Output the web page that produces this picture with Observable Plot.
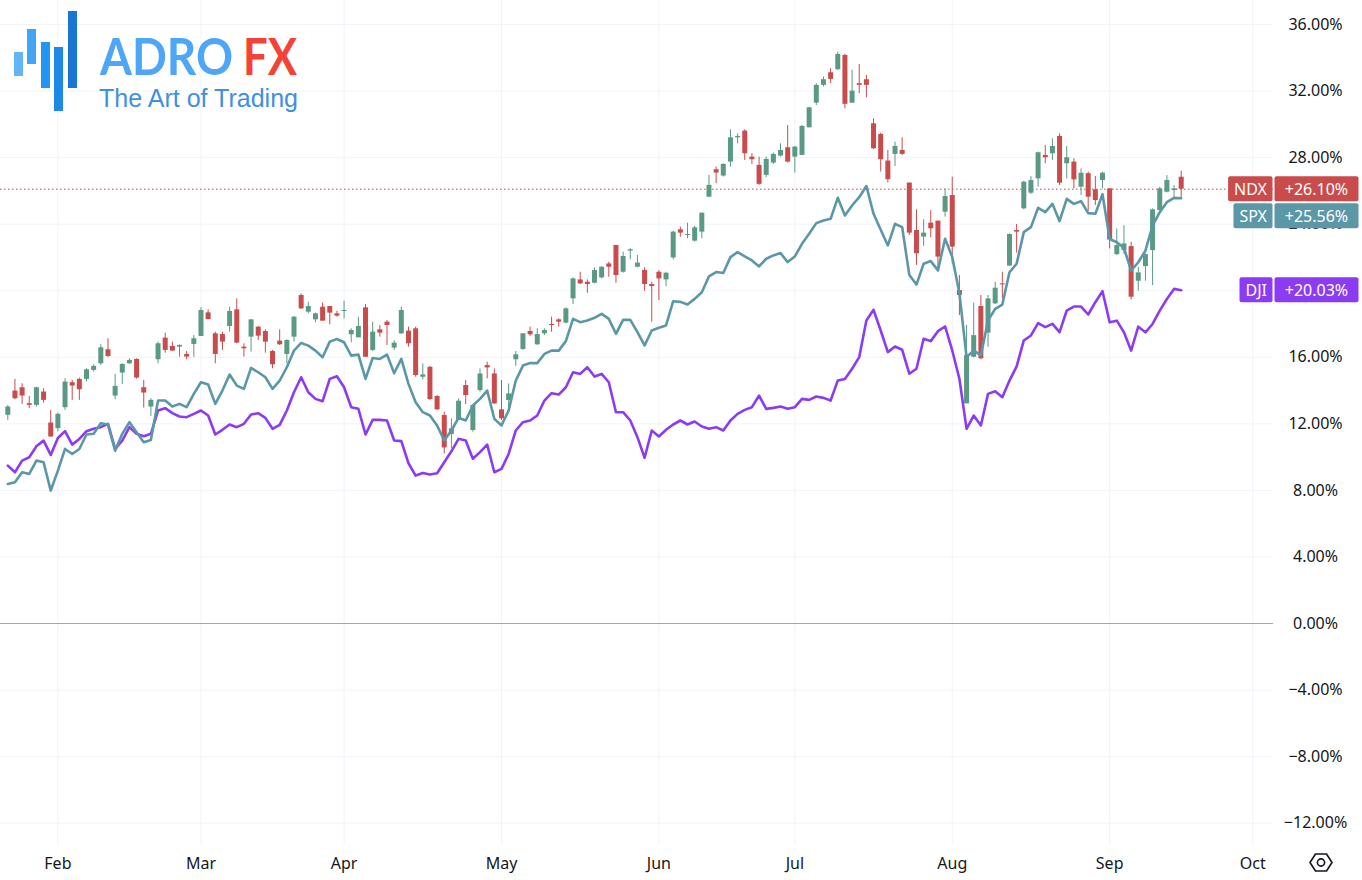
<!DOCTYPE html>
<html><head><meta charset="utf-8">
<script src="https://cdn.jsdelivr.net/npm/d3@7"></script>
<script src="https://cdn.jsdelivr.net/npm/@observablehq/plot@0.6"></script>
<style>
html,body{margin:0;padding:0;background:#fff;}
#wrap{position:relative;width:1362px;height:880px;overflow:hidden;}
#logo{position:absolute;left:0;top:0;}
#gear{position:absolute;left:0;top:0;pointer-events:none;}
</style></head><body>
<div id="wrap">
<div id="chart"></div>
<svg id="logo" width="320" height="120" xmlns="http://www.w3.org/2000/svg">
  <rect x="14" y="52" width="9" height="24" fill="#64b5f6"/>
  <rect x="27" y="29" width="9" height="35" fill="#42a5f5"/>
  <rect x="41" y="42" width="9" height="46" fill="#2196f3"/>
  <rect x="54" y="47" width="9" height="64" fill="#1e88e5"/>
  <rect x="68" y="11" width="9" height="77" fill="#1976d2"/>
  <text x="100" y="75" font-family="Lato" font-weight="700" font-size="51" fill="#4ea7f6" textLength="133" lengthAdjust="spacingAndGlyphs">ADRO</text>
  <text x="243" y="75" font-family="Lato" font-weight="700" font-size="51" fill="#f44336" textLength="54" lengthAdjust="spacingAndGlyphs">FX</text>
  <text x="99" y="107" font-family="'Liberation Sans', sans-serif" font-weight="400" font-size="25" fill="#3f8fe3" textLength="199" lengthAdjust="spacingAndGlyphs">The Art of Trading</text>
</svg>
<svg id="gear" width="1362" height="880" xmlns="http://www.w3.org/2000/svg">
  <polygon points="1310,862.5 1315.5,854 1326.5,854 1332,862.5 1326.5,871 1315.5,871" fill="none" stroke="#131722" stroke-width="1.6" stroke-linejoin="round"/>
  <circle cx="1321" cy="862.5" r="3.6" fill="none" stroke="#131722" stroke-width="1.6"/>
</svg>
</div>
<script>
// ---- data (percent change, comparison mode) ----
const firstBarIndex = -7; // trading-day index relative to Feb 1
const ndxOpen = [12.51,13.97,14.17,13.21,13.11,13.91,12.05,11.71,12.97,14.47,14.67,14.67,15.21,15.61,16.45,13.67,15.05,15.61,15.87,14.17,13.01,15.85,17.15,16.65,16.61,16.17,16.77,17.25,18.67,17.41,17.37,17.85,18.85,16.61,17.21,17.81,17.55,16.35,16.97,16.17,17.21,19.71,18.71,18.25,19.01,19.05,18.61,18.75,17.35,17.17,18.97,16.41,17.65,18.11,16.55,17.41,17.57,17.71,14.8,15.4,13.64,12.5,11.36,12.2,14.3,11.6,14.0,15.5,15.0,12.84,13.4,15.85,16.47,17.55,16.75,17.41,17.97,18.25,18.05,19.51,20.65,20.51,20.45,20.77,21.61,22.72,21.11,22.38,21.41,21.22,20.37,21.11,20.65,21.97,23.66,23.32,22.98,23.52,25.62,27.27,26.89,27.73,29.19,29.59,28.03,27.53,26.93,27.67,28.09,28.59,28.03,28.13,29.79,31.27,32.34,33.1,33.28,34.14,31.27,32.44,32.68,30.03,29.39,27.79,28.19,28.43,26.47,23.62,23.22,24.06,24.18,24.72,25.72,20.01,13.2,16.0,19.05,17.45,19.21,20.41,21.48,23.62,24.92,25.86,26.72,28.13,28.23,29.27,27.63,27.73,26.22,27.03,26.06,26.62,26.12,22.17,22.41,22.65,20.57,21.45,22.41,24.82,25.92,26.02,26.82];
const ndxHigh = [13.11,14.67,14.41,13.65,14.2,14.11,12.81,12.65,14.71,14.61,14.75,15.31,15.55,16.75,17.11,14.97,15.61,15.91,15.91,14.61,13.51,16.91,17.45,16.91,16.75,16.35,17.31,18.97,18.85,17.51,17.51,19.01,19.51,16.81,18.25,17.85,17.65,16.41,17.65,17.05,18.45,19.81,19.31,18.65,19.27,19.05,18.77,19.37,17.71,18.41,19.17,18.11,17.91,18.21,17.0,19.01,17.81,17.81,15.6,15.44,13.7,12.7,12.3,13.5,14.6,13.1,15.3,15.7,15.3,14.6,14.4,16.35,17.41,17.81,17.71,17.71,18.41,18.31,18.97,20.77,21.11,20.65,21.37,21.45,21.71,22.72,22.32,22.52,22.12,21.38,20.51,21.21,21.11,23.58,23.82,24.06,23.86,24.66,26.93,27.43,27.63,29.67,29.43,29.67,28.23,28.03,28.03,28.27,28.83,29.93,28.67,29.93,31.03,32.44,32.84,33.34,34.34,34.2,33.24,33.6,32.94,30.33,29.47,28.43,28.93,29.19,26.47,24.86,24.26,24.82,24.18,26.12,26.82,20.91,17.91,19.25,19.71,19.71,20.51,21.11,23.42,23.98,26.58,26.86,28.33,28.73,29.13,29.43,28.67,27.93,27.32,27.13,26.86,27.12,26.12,23.71,23.91,22.91,21.41,22.21,24.92,26.22,26.92,26.32,27.18];
const ndxLow = [12.21,13.45,13.17,12.91,13.0,13.25,11.2,11.51,12.81,13.41,13.41,14.51,15.11,15.51,15.97,13.45,14.37,15.57,14.69,12.95,12.45,15.61,16.25,16.37,16.0,15.85,16.0,17.25,18.25,15.61,16.41,17.51,16.81,16.01,16.31,17.01,16.25,15.31,16.71,15.61,16.91,18.87,18.61,18.07,18.17,17.95,18.41,18.31,16.87,17.17,16.0,16.35,17.21,16.71,16.41,17.37,16.61,14.8,14.64,13.4,12.8,10.19,10.5,12.2,13.16,11.5,13.9,14.7,13.16,12.2,12.7,15.45,16.41,17.25,16.71,17.31,17.51,17.81,18.01,19.17,20.37,19.85,20.41,20.71,20.81,20.45,21.05,21.86,21.38,19.97,18.11,19.41,20.25,21.86,23.22,23.12,22.92,23.12,25.59,26.43,26.83,27.43,28.83,27.83,27.59,26.33,26.79,27.59,28.03,27.67,27.07,28.13,29.79,31.13,32.24,32.44,33.24,30.93,31.27,31.84,31.6,28.49,27.13,26.47,27.47,28.13,23.32,21.52,22.66,23.18,21.18,24.42,21.62,18.51,13.2,15.97,15.85,16.61,19.17,19.51,21.48,22.26,24.86,25.78,26.22,27.63,27.83,26.32,26.72,26.12,25.72,24.78,25.12,26.12,22.51,22.11,22.17,19.45,19.97,20.57,20.31,24.78,25.88,25.58,25.58];
const ndxClose = [13.01,13.51,13.67,13.11,14.17,13.41,11.21,12.57,14.51,14.27,14.05,15.25,15.45,16.57,16.05,14.25,15.57,15.81,14.75,13.85,13.41,16.81,16.41,16.37,16.71,16.01,17.11,18.81,18.27,16.17,16.91,18.75,16.85,16.51,18.25,17.27,16.91,15.55,16.75,17.01,18.41,18.91,19.05,18.61,18.17,18.65,18.47,18.81,17.61,17.85,16.0,17.51,17.45,17.91,16.85,18.81,16.81,14.9,14.94,13.46,12.84,10.55,11.7,13.36,13.7,13.1,15.0,15.36,13.2,12.3,13.8,16.15,17.41,17.35,17.37,17.61,17.91,18.11,18.91,20.71,20.41,20.37,21.21,21.41,21.41,20.91,22.06,22.46,21.66,20.37,20.25,20.71,21.05,23.52,23.46,23.38,23.78,24.66,26.33,27.07,27.59,29.19,29.27,28.23,27.87,26.39,27.89,28.19,28.43,27.73,28.63,29.87,30.99,32.34,32.68,32.7,34.2,31.2,31.99,32.34,32.34,28.53,27.87,26.67,28.67,28.19,23.46,22.22,23.46,23.72,22.02,25.66,22.62,19.71,16.11,17.3,15.91,19.51,20.15,20.35,23.38,23.52,26.52,26.62,28.29,27.99,28.67,26.46,27.99,26.66,27.06,25.62,25.42,27.06,23.05,22.71,22.81,19.61,21.07,22.17,24.86,26.12,26.62,26.12,26.10];
const spxClose = [8.39,8.49,9.09,8.99,9.79,9.69,7.99,9.19,10.49,10.19,10.49,11.36,11.40,12.04,11.96,10.39,11.40,12.10,11.50,10.89,11.03,13.40,13.40,13.04,13.20,13.0,13.80,14.5,14.36,13.2,14.0,14.96,14.3,14.1,15.36,15.1,14.8,14.1,14.6,15.4,16.4,16.86,16.7,16.4,16.0,16.94,17.1,16.9,16.1,16.16,14.7,15.96,15.9,16.16,15.04,15.9,14.4,13.3,12.7,12.5,11.9,11.0,11.6,12.36,12.2,13.1,13.5,14.0,12.3,11.9,12.8,14.6,15.5,15.65,15.65,16.2,16.4,16.4,16.97,18.31,18.11,18.21,18.37,18.61,18.31,17.41,18.25,18.25,17.51,16.71,17.61,17.77,17.91,19.37,19.33,19.17,19.51,19.91,20.86,21.12,21.06,22.02,22.32,22.06,21.82,21.46,21.92,22.12,22.26,21.72,22.06,22.82,23.42,24.06,24.22,24.32,25.58,24.52,25.12,25.62,26.29,24.62,23.66,22.72,24.02,23.82,20.95,20.37,21.62,21.78,21.22,23.12,22.02,19.85,16.01,16.41,16.11,18.21,18.91,19.17,21.11,21.62,23.52,23.82,24.98,24.72,25.22,24.18,25.52,25.22,25.38,24.66,24.62,25.8,23.11,22.91,22.57,21.21,21.71,22.41,23.91,24.72,25.32,25.58,25.56];
const djiClose = [9.49,9.09,9.79,9.99,10.65,10.99,10.13,11.15,11.56,10.75,11.09,11.56,11.70,11.80,12.0,10.49,10.99,11.80,11.40,11.26,11.40,12.8,12.94,12.64,12.44,12.40,12.60,12.8,12.5,11.36,11.64,11.96,11.80,12.0,12.56,12.64,12.36,11.70,11.94,12.8,13.9,14.8,13.9,13.5,13.36,14.7,14.86,14.2,13.0,12.9,11.36,12.24,12.24,12.2,11.0,10.96,9.63,8.89,9.05,8.95,9.03,9.69,10.35,11.1,11.0,9.9,10.3,10.75,9.09,9.29,10.19,11.6,12.1,12.2,12.5,13.4,13.84,13.76,14.2,15.1,15.0,15.4,14.84,15.0,14.5,12.7,12.7,12.2,11.2,9.96,11.6,11.24,11.64,11.96,12.2,11.96,12.14,11.84,11.7,11.8,11.6,12.2,12.6,12.84,13.0,13.7,12.9,12.96,13.04,12.9,13.0,13.5,13.44,13.64,13.56,13.4,14.6,14.7,15.31,16.01,18.21,18.85,17.61,16.31,16.65,16.45,15.01,15.31,17.11,16.97,17.57,17.85,16.41,14.71,11.7,12.5,11.9,13.8,13.96,13.6,14.6,15.45,17.01,17.31,18.05,17.81,18.01,17.51,18.81,19.05,19.05,18.57,19.31,19.97,18.1,18.2,17.5,16.4,17.84,17.5,18.0,18.8,19.5,20.11,20.03];

const monthTickIdx = [0, 20, 40, 62, 84, 103, 125, 147, 167];
const monthLabels = ["Feb", "Mar", "Apr", "May", "Jun", "Jul", "Aug", "Sep", "Oct"];
const yTicks = [-12, -8, -4, 0, 4, 8, 12, 16, 20, 24, 28, 32, 36];

// ---- styling ----
const UP = "#5a9a83", DOWN = "#c94b4c", SPXC = "#5b97a6", DJIC = "#8b3cf3";
const GRID = "#f0f3fa", TXT = "#131722";
const X_DOMAIN = [-8.02, 169.9], Y_DOMAIN = [-13.34, 37.44];
const W = 1362, H = 880, MR = 89, MB = 35;
const LABEL_H = 25, LABEL_GAP = 27;

const rows = ndxOpen.map((o, k) => ({
  i: firstBarIndex + k, open: o, high: ndxHigh[k], low: ndxLow[k], close: ndxClose[k],
  spx: spxClose[k], dji: djiClose[k]
}));
const ups = rows.filter(d => d.close >= d.open);
const downs = rows.filter(d => d.close < d.open);
const last = rows[rows.length - 1];

const fmtPct = d => (d < 0 ? "\u2212" : "") + Math.abs(d).toFixed(2) + "%";
const fmtSigned = d => (d >= 0 ? "+" : "\u2212") + Math.abs(d).toFixed(2) + "%";

// price-scale labels hide tick labels they fully cover (as on the price scale)
const pxPerUnit = (H - MB) / (Y_DOMAIN[1] - Y_DOMAIN[0]);
const labelCentersPct = [last.close, Math.min(last.spx, last.close - LABEL_GAP / pxPerUnit), last.dji];
const shownTicks = yTicks.filter(t => labelCentersPct.every(c => Math.abs(c - t) * pxPerUnit > 6));

const chart = Plot.plot({
  width: W, height: H,
  marginLeft: 0, marginRight: MR, marginTop: 0, marginBottom: MB,
  x: {type: "linear", domain: X_DOMAIN, axis: null},
  y: {type: "linear", domain: Y_DOMAIN, axis: null},
  style: {fontFamily: "'Noto Sans', sans-serif", fontSize: "16px", color: TXT, background: "transparent"},
  marks: [
    Plot.gridX(monthTickIdx, {stroke: GRID, strokeOpacity: 1}),
    Plot.gridY(yTicks.filter(d => d !== 0), {stroke: GRID, strokeOpacity: 1}),
    Plot.ruleY([0], {stroke: "#a3a6ae", strokeWidth: 1}),
    Plot.ruleY([last.close], {stroke: DOWN, strokeWidth: 1, strokeDasharray: "1.5,2.5"}),
    // NDX candles
    Plot.ruleX(ups, {x: "i", y1: "low", y2: "high", stroke: UP, strokeWidth: 1}),
    Plot.ruleX(downs, {x: "i", y1: "low", y2: "high", stroke: DOWN, strokeWidth: 1}),
    Plot.ruleX(ups, {x: "i", y1: "open", y2: "close", stroke: UP, strokeWidth: 5}),
    Plot.ruleX(downs, {x: "i", y1: "open", y2: "close", stroke: DOWN, strokeWidth: 5}),
    // comparison lines
    Plot.line(rows, {x: "i", y: "dji", stroke: DJIC, strokeWidth: 2.6, strokeLinejoin: "round", strokeLinecap: "round"}),
    Plot.line(rows, {x: "i", y: "spx", stroke: SPXC, strokeWidth: 2.6, strokeLinejoin: "round", strokeLinecap: "round"}),
    // axes
    Plot.axisY(shownTicks, {anchor: "right", tickSize: 0, tickPadding: 0, dx: 42, textAnchor: "middle",
      tickFormat: fmtPct, fill: TXT, fontSize: 16, label: null}),
    Plot.axisX(monthTickIdx, {anchor: "bottom", tickSize: 0, tickPadding: 12,
      tickFormat: d => monthLabels[monthTickIdx.indexOf(d)], fill: TXT, fontSize: 16, label: null})
  ]
});
document.getElementById("chart").appendChild(chart);

// ---- last-value labels on the price scale ----
const ys = chart.scale("y");
const xs = chart.scale("x");
const frameRight = Math.max(...xs.range);
const svg = d3.select(chart);
const g = svg.append("g").attr("font-family", "'Noto Sans', sans-serif").attr("font-size", 16);
const yN = ys.apply(last.close);
let yS = ys.apply(last.spx);
if (Math.abs(yS - yN) < LABEL_GAP) yS = yN + LABEL_GAP;
const yD = ys.apply(last.dji);
const labels = [
  {name: "NDX", value: last.close, color: DOWN, y: yN},
  {name: "SPX", value: last.spx, color: SPXC, y: yS},
  {name: "DJI", value: last.dji, color: DJIC, y: yD}
];
for (const L of labels) {
  const h = LABEL_H;
  const nameText = g.append("text").attr("fill", "#fff").attr("text-anchor", "middle")
    .attr("dominant-baseline", "central").text(L.name);
  const w = nameText.node().getComputedTextLength() + 12;
  nameText.attr("x", frameRight - w / 2).attr("y", L.y);
  g.insert("rect", () => nameText.node()).attr("x", frameRight - w).attr("y", L.y - h / 2)
    .attr("width", w - 0.5).attr("height", h).attr("rx", 2).attr("fill", L.color);
  g.append("rect").attr("x", frameRight + 1.5).attr("y", L.y - h / 2)
    .attr("width", 84).attr("height", h).attr("rx", 2).attr("fill", L.color);
  g.append("text").attr("fill", "#fff").attr("text-anchor", "middle").attr("dominant-baseline", "central")
    .attr("x", frameRight + 43.5).attr("y", L.y).text(fmtSigned(L.value));
}
</script>
</body></html>
